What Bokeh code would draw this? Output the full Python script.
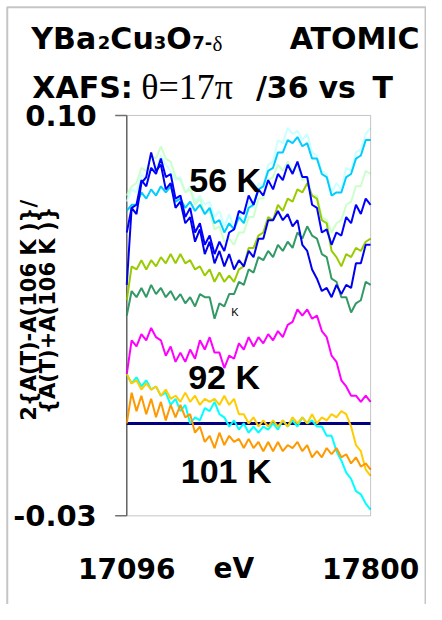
import numpy as np
from math import pi
from bokeh.plotting import figure
from bokeh.models import Range1d, Label, BoxAnnotation
from bokeh.embed import file_html
from bokeh.resources import INLINE

# ---------------- data ----------------
energy_min, energy_max = 17096, 17800
n_points = 51
energy = np.linspace(energy_min, energy_max, n_points)  # eV sampling grid

# normalised differences, in units of 1e-3
pale_cyan = [72, 76, 75, 81, 79, 83, 82, 87, 84, 82, 79, 80, 75, 77, 72, 74, 71, 72, 67, 69, 64, 68, 63, 69, 65, 72,
             70, 78, 77, 84, 85, 92, 91, 96, 94, 95, 92, 94, 88, 87, 82, 81, 75, 78, 76, 83, 82, 88, 89, 94, 96]
sky_cyan = [69, 71, 71, 75, 73, 76, 74, 77, 75, 77, 72, 73, 70, 72, 69, 71, 68, 70, 65, 66, 62, 65, 63, 67, 65, 70,
            71, 76, 77, 82, 83, 88, 88, 92, 91, 93, 90, 91, 86, 86, 81, 80, 74, 75, 75, 80, 81, 86, 87, 92, 92]
pale_green = [74, 77, 78, 83, 82, 87, 86, 90, 86, 85, 80, 79, 75, 76, 71, 73, 68, 69, 63, 64, 59, 60, 58, 62, 62, 67,
              67, 73, 73, 79, 80, 84, 82, 85, 82, 84, 79, 80, 74, 74, 67, 66, 62, 65, 66, 71, 72, 77, 77, 82, 81]
yellow_green = [40, 51, 50, 53, 50, 53, 51, 54, 52, 55, 52, 55, 52, 53, 50, 51, 48, 50, 46, 49, 46, 48, 46, 50, 51, 57,
                57, 61, 62, 67, 66, 71, 69, 73, 72, 76, 75, 78, 74, 73, 66, 65, 56, 54, 51, 55, 54, 57, 56, 59, 60]
sea_green = [35, 43, 41, 44, 41, 45, 42, 44, 41, 43, 40, 42, 39, 41, 38, 42, 41, 41, 34, 39, 38, 42, 42, 46, 45, 50,
             49, 54, 53, 56, 54, 58, 56, 59, 57, 62, 60, 64, 61, 60, 55, 54, 47, 46, 41, 41, 36, 39, 40, 46, 45]
blue_a = [45, 70, 68, 78, 80, 88, 82, 84, 76, 78, 70, 72, 65, 67, 59, 63, 55, 59, 52, 56, 51, 55, 50, 53, 51, 56,
          54, 60, 60, 66, 66, 69, 66, 68, 64, 66, 58, 56, 50, 47, 43, 44, 41, 45, 42, 45, 44, 52, 52, 58, 58]
blue_b = [62, 70, 71, 79, 77, 83, 81, 86, 80, 81, 73, 74, 67, 70, 62, 65, 58, 61, 55, 59, 56, 62, 63, 69, 68, 74,
          71, 76, 74, 79, 76, 81, 79, 84, 81, 85, 80, 80, 71, 70, 62, 63, 58, 62, 61, 67, 65, 71, 68, 73, 71]
magenta = [16, 27, 25, 29, 27, 31, 28, 27, 22, 25, 20, 23, 20, 24, 21, 27, 24, 28, 23, 23, 18, 22, 21, 26, 24, 28,
           25, 28, 26, 29, 27, 30, 28, 32, 33, 37, 35, 37, 34, 35, 30, 28, 22, 20, 14, 12, 9, 9, 7, 9, 7]
gold = [16, 13, 14, 11, 13, 11, 12, 9, 11, 8, 9, 7, 10, 7, 9, 6, 8, 7, 8, 6, 9, 6, 8, 3, 3, 0, 2, -1, 1, -1, 1,
        -1, 1, -1, 2, 0, 2, 0, 3, 0, 2, 1, 3, 2, 4, 3, -1, -7, -9, -15, -17]
cyan = [16, 13, 15, 12, 14, 11, 12, 9, 10, 6, 8, 4, 6, 0, 2, 1, 5, 4, 7, 3, 2, -1, 1, -2, 0, -3, -1, -3, -1, -2, 0,
        -2, 1, -1, 1, -1, 2, 0, 1, -1, -1, -4, -4, -9, -12, -16, -18, -22, -23, -26, -28]
orange = [0, 10, 4, 9, 3, 8, 2, 7, 1, 6, 2, 6, 2, 3, -3, -1, -6, -4, -8, -3, -7, -4, -6, -5, -8, -5, -8, -6, -9, -6,
          -9, -6, -9, -7, -8, -6, -9, -7, -11, -9, -11, -8, -10, -8, -11, -10, -13, -11, -14, -13, -15]
reference_106K = 0.0  # A(106 K) compared with itself

series = [
    (pale_cyan, "#ccffff"),
    (pale_green, "#ccffcc"),
    (sky_cyan, "#00ccff"),
    (sea_green, "#339966"),
    (yellow_green, "#99cc00"),
    (blue_b, "#0000ff"),
    (blue_a, "#0000ee"),
    (magenta, "#ff00ff"),
    (cyan, "#00ffff"),
    (gold, "#ffcc00"),
    (orange, "#ff9900"),
]

y_min, y_max = -0.03, 0.10
y_ticks = [-0.03, 0.10]
x_tick_labels = [17096, 17800]
temp_labels = [("56 K", 17380, 0.079), ("92 K", 17377, 0.0152), ("101 K", 17383, -0.0155)]

# ---------------- layout (pixels of the 442x620 original, scaled to the canvas) ----------------
W, H = 426, 604
SX, SY = W / 442, H / 620
BOX_L, BOX_R, BOX_T, BOX_B = 131, 384, 118, 529

ev_per_px = (energy_max - energy_min) / ((BOX_R - BOX_L) * SX)
val_per_px = (y_max - y_min) / ((BOX_B - BOX_T) * SY)
x_lo = energy_min - BOX_L * SX * ev_per_px
x_hi = energy_max + (W - BOX_R * SX) * ev_per_px
y_hi = y_max + BOX_T * SY * val_per_px
y_lo = y_min - (H - BOX_B * SY) * val_per_px


def dx(xr):
    return x_lo + xr * SX * ev_per_px


def dy(yr):
    return y_hi - yr * SY * val_per_px


p = figure(width=W, height=H, output_backend="svg", toolbar_location=None,
           x_range=Range1d(x_lo, x_hi), y_range=Range1d(y_lo, y_hi),
           x_axis_location=None, y_axis_location=None, min_border=0)
p.grid.visible = False
p.outline_line_color = None
p.background_fill_color = "white"
p.border_fill_color = "white"

# slide border
p.add_layout(BoxAnnotation(left=dx(7), right=dx(441), top=dy(7), bottom=dy(700),
                           fill_color=None, line_color="#404040", line_width=2))
# plot box
p.add_layout(BoxAnnotation(left=energy_min, right=energy_max, bottom=y_min, top=y_max,
                           fill_color=None, line_color="#404040", line_width=1))
# y axis line and outward ticks
p.segment(x0=energy_min, y0=y_min, x1=energy_min, y1=y_max, line_color="#707070", line_width=1.5)
p.segment(x0=[dx(BOX_L - 12)] * len(y_ticks), y0=y_ticks, x1=[energy_min] * len(y_ticks), y1=y_ticks,
          line_color="#707070", line_width=1.5)

# 106 K reference (zero) line
p.segment(x0=energy_min, y0=reference_106K, x1=energy_max, y1=reference_106K, line_color="#000080", line_width=3)

for vals, col in series:
    p.line(energy, np.array(vals) * 1e-3, line_color=col, line_width=2)


def txt(text, x, y, size, font="DejaVu Sans", style="bold", align="left", baseline="alphabetic", angle=0,
        x_offset=0):
    p.add_layout(Label(x=x, y=y, text=text, text_font=font, text_font_size=f"{size}px",
                       text_font_style=style, text_align=align, text_baseline=baseline, angle=angle,
                       x_offset=x_offset, text_color="black"))


# y tick labels
for t in y_ticks:
    txt(f"{t:.2f}", energy_min, t, 29, align="right", baseline="middle", x_offset=-30)
# x tick labels
for e in x_tick_labels:
    txt(f"{e}", e, dy(583), 28, align="center")
txt("eV", dx(221), dy(583), 28)

# temperature labels
for t, ex, ey in temp_labels:
    txt(t, ex, ey, 34, font="Liberation Sans", align="center", baseline="middle")
txt("K", 17408, 0.0363, 11, font="Liberation Sans", style="normal", align="center", baseline="middle")

# title line 1
txt("YBa", dx(32), dy(39), 30)
txt("2", dx(101), dy(43), 18)
txt("Cu", dx(114), dy(39), 30)
txt("3", dx(159), dy(43), 18)
txt("O", dx(172), dy(39), 30)
txt("7-", dx(199), dy(43), 18)
txt("δ", dx(220), dy(45), 21, font="Liberation Serif", style="normal")
txt("ATOMIC", dx(300), dy(39), 30)
# title line 2
txt("XAFS:", dx(33), dy(89), 30)
txt("θ=17π", dx(146), dy(89), 36, font="Liberation Serif", style="normal")
txt("/36", dx(265), dy(89), 30)
txt("vs", dx(330), dy(89), 30)
txt("T", dx(386), dy(89), 30)
# y axis title
txt("2{A(T)-A(106 K )}/", dx(30), dy(318), 21, align="center", baseline="middle", angle=pi / 2)
txt("{A(T)+A(106 K )}", dx(49), dy(318), 21, align="center", baseline="middle", angle=pi / 2)

open("out.html", "w").write(file_html(p, INLINE))
